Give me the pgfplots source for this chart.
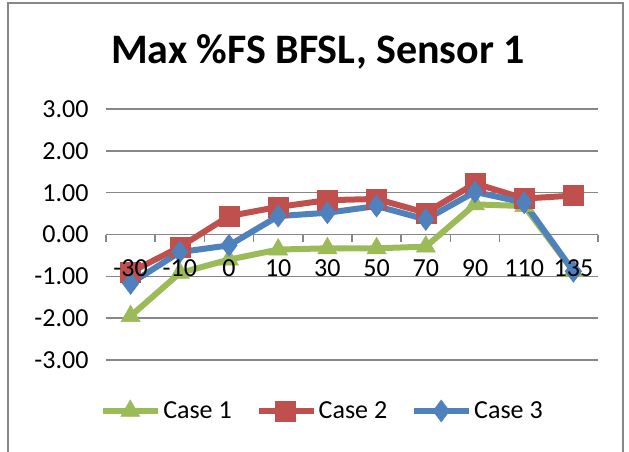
\documentclass[border=0pt]{standalone}
\usepackage{pgfplots}
\pgfplotsset{compat=1.18}
\usepackage{fontspec}
\setmainfont{Carlito}
\definecolor{cgreen}{HTML}{9BBB59}
\definecolor{cred}{HTML}{C0504D}
\definecolor{cblue}{HTML}{4F81BD}
\definecolor{gridgray}{HTML}{878787}
\begin{document}
\begin{tikzpicture}
\useasboundingbox (0,0) rectangle (629pt,451pt);
\draw[gridgray, line width=1.5pt] (8pt,-2pt) -- (8pt,448pt) -- (623pt,448pt) -- (623pt,-2pt);
\node[font=\fontsize{42}{50}\selectfont\bfseries] at (318pt,399pt) {Max \%FS BFSL, Sensor 1};
\begin{axis}[
  at={(106pt,91pt)}, anchor=south west,
  width=492pt, height=251pt, scale only axis,
  xmin=-0.5, xmax=9.5, ymin=-3, ymax=3,
  clip=false,
  axis x line*=middle, axis y line*=left,
  x axis line style={draw=gridgray, line width=1.5pt, -},
  y axis line style={draw=none},
  xtick={0,...,9},
  xticklabels={},
  minor xtick={-0.5,0.5,...,9.5},
  major tick length=0pt,
  minor tick length=7pt,
  tick align=outside,
  minor tick style={draw=gridgray, line width=1.5pt},
  ytick={-3,...,3},
  ymajorgrids,
  grid style={gridgray, line width=1.5pt},
  yticklabel={\pgfmathprintnumber[fixed,fixed zerofill,precision=2]{\tick}},
  /pgf/number format/assume math mode=true,
  tick label style={font=\fontsize{26}{30}\selectfont},
  yticklabel style={xshift=-14pt},
  legend style={at={(0.44,-0.203)}, anchor=center, draw=none, fill=none,
    legend columns=-1, font=\fontsize{26}{30}\selectfont,
    /tikz/every even column/.append style={column sep=22pt},
    nodes={inner sep=2pt}},
  legend image code/.code={
    \draw[mark repeat=2,mark phase=2] plot coordinates {(0pt,0pt) (27pt,0pt) (55pt,0pt)};},
]
\addplot[cgreen, line width=6pt, mark=triangle*, mark size=11pt, mark options={solid, line width=0.5pt}]
  coordinates {(0,-1.95) (1,-0.92) (2,-0.60) (3,-0.36) (4,-0.33) (5,-0.33) (6,-0.29) (7,0.72) (8,0.68) (9,-0.88)};
\addplot[cred, line width=6pt, mark=square*, mark size=10pt, mark options={solid, line width=0.5pt}]
  coordinates {(0,-0.90) (1,-0.30) (2,0.44) (3,0.66) (4,0.82) (5,0.85) (6,0.52) (7,1.22) (8,0.86) (9,0.93)};
\addplot[cblue, line width=6pt, mark=diamond*, mark size=11pt, mark options={solid, line width=0.5pt}]
  coordinates {(0,-1.17) (1,-0.42) (2,-0.26) (3,0.44) (4,0.52) (5,0.68) (6,0.36) (7,1.02) (8,0.76) (9,-0.88)};
\legend{Case 1, Case 2, Case 3}
\coordinate (c0) at (axis cs:0,0);
\coordinate (c1) at (axis cs:1,0);
\coordinate (c2) at (axis cs:2,0);
\coordinate (c3) at (axis cs:3,0);
\coordinate (c4) at (axis cs:4,0);
\coordinate (c5) at (axis cs:5,0);
\coordinate (c6) at (axis cs:6,0);
\coordinate (c7) at (axis cs:7,0);
\coordinate (c8) at (axis cs:8,0);
\coordinate (c9) at (axis cs:9,0);
\end{axis}
\foreach \i/\lab in {0/-30,1/-10,2/0,3/10,4/30,5/50,6/70,7/90,8/110,9/135}{
  \node[anchor=base, font=\fontsize{26}{30}\selectfont, inner sep=0pt, yshift=-42pt] at (c\i) {\lab};
}
\end{tikzpicture}
\end{document}
